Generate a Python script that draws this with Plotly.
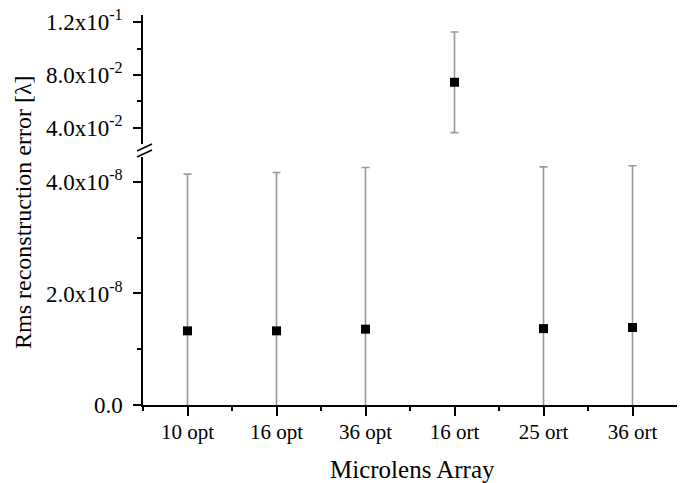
import plotly.graph_objects as go

categories = ["10 opt", "16 opt", "36 opt", "16 ort", "25 ort", "36 ort"]
rms_error = [1.33e-8, 1.33e-8, 1.36e-8, 0.0745, 1.37e-8, 1.39e-8]
rms_std = [2.81e-8, 2.84e-8, 2.90e-8, 0.038, 2.90e-8, 2.90e-8]

lower_ticks = [0.0, 2.0e-8, 4.0e-8]
lower_ticktext = ["0.0", "2.0x10<sup>-8</sup>", "4.0x10<sup>-8</sup>"]
lower_minor = [1.0e-8, 3.0e-8]
upper_ticks = [0.04, 0.08, 0.12]
upper_ticktext = ["4.0x10<sup>-2</sup>", "8.0x10<sup>-2</sup>", "1.2x10<sup>-1</sup>"]
upper_minor = [0.06, 0.10]

threshold = 1e-3
idx = list(range(len(categories)))
low_i = [i for i in idx if rms_error[i] < threshold]
up_i = [i for i in idx if rms_error[i] >= threshold]

FONT = "Liberation Serif"
OFF = 8  # page body margin
W, H = 686 - OFF, 483 - OFF
L, R, T, B = 143 - OFF, 9, 15 - OFF, 78
PW, PH = W - L - R, H - T - B

def py(pix):  # reference pixel y -> paper
    return (H - B - (pix - OFF)) / PH

def px(pix):
    return ((pix - OFF) - L) / PW

err_style = dict(type="data", color="#9a9a9a", thickness=1.6, width=4)
marker = dict(symbol="square", size=9, color="black")

fig = go.Figure()
fig.add_trace(go.Scatter(
    x=low_i, y=[rms_error[i] for i in low_i], mode="markers", marker=marker,
    error_y=dict(array=[rms_std[i] for i in low_i], **err_style),
    xaxis="x", yaxis="y", showlegend=False, cliponaxis=True))
fig.add_trace(go.Scatter(
    x=up_i, y=[rms_error[i] for i in up_i], mode="markers", marker=marker,
    error_y=dict(array=[rms_std[i] for i in up_i], **err_style),
    xaxis="x2", yaxis="y2", showlegend=False, cliponaxis=True))

ytickfont = dict(family=FONT, size=23, color="black")
xtickfont = dict(family=FONT, size=21, color="black")
lower_top = py(157)
upper_bot = py(144)

fig.update_layout(
    width=W, height=H,
    margin=dict(l=L, r=R, t=T, b=B, autoexpand=False),
    paper_bgcolor="white", plot_bgcolor="white",
    font=dict(family=FONT, color="black"),
    xaxis=dict(range=[-0.5, 5.5], tickvals=idx, ticktext=categories,
               showline=True, linecolor="black", linewidth=1.5,
               ticks="outside", ticklen=9, tickwidth=1.5, tickcolor="black",
               showgrid=False, zeroline=False, tickfont=xtickfont,
               ticklabelstandoff=-2, ticklabeloverflow="allow",
               minor=dict(tickmode="array", tickvals=[i - 0.5 for i in idx],
                          ticks="outside", ticklen=4, tickwidth=1.5, tickcolor="black"),
               domain=[0, 1], anchor="y"),
    xaxis2=dict(range=[-0.5, 5.5], showline=False, showticklabels=False,
                ticks="", showgrid=False, zeroline=False, anchor="y2",
                matches="x", domain=[0, 1]),
    yaxis=dict(range=[0, 4.448e-8], domain=[0, lower_top],
               tickmode="array", tickvals=lower_ticks, ticktext=lower_ticktext,
               showline=True, linecolor="black", linewidth=1.5,
               ticks="outside", ticklen=8, tickwidth=1.5, tickcolor="black",
               showgrid=False, zeroline=False, tickfont=ytickfont,
               ticklabelstandoff=6, ticklabeloverflow="allow",
               minor=dict(tickmode="array", tickvals=lower_minor,
                          ticks="outside", ticklen=4, tickwidth=1.5, tickcolor="black"),
               anchor="x"),
    yaxis2=dict(range=[0.0279, 0.1253], domain=[upper_bot, 1],
                tickmode="array", tickvals=upper_ticks, ticktext=upper_ticktext,
                showline=True, linecolor="black", linewidth=1.5,
                ticks="outside", ticklen=8, tickwidth=1.5, tickcolor="black",
                showgrid=False, zeroline=False, tickfont=ytickfont,
                ticklabelstandoff=6, ticklabeloverflow="allow",
                minor=dict(tickmode="array", tickvals=upper_minor,
                           ticks="outside", ticklen=4, tickwidth=1.5, tickcolor="black"),
                anchor="x2"),
)

# axis break marks
for (x0, y0, x1, y1) in [(137, 151, 152, 144), (137, 157, 152, 150)]:
    fig.add_shape(type="line", xref="paper", yref="paper",
                  x0=px(x0), y0=py(y0), x1=px(x1), y1=py(y1),
                  line=dict(color="black", width=1.5))

fig.add_annotation(text="Rms reconstruction error [λ]", textangle=-90,
                   xref="paper", yref="paper", x=px(23), y=py(212),
                   xanchor="center", yanchor="middle", showarrow=False,
                   font=dict(family=FONT, size=24, color="black"))
fig.add_annotation(text="Microlens Array",
                   xref="paper", yref="paper", x=px(412), y=py(469),
                   xanchor="center", yanchor="middle", showarrow=False,
                   font=dict(family=FONT, size=25, color="black"))

fig.write_html("out.html", config={"displayModeBar": False})
